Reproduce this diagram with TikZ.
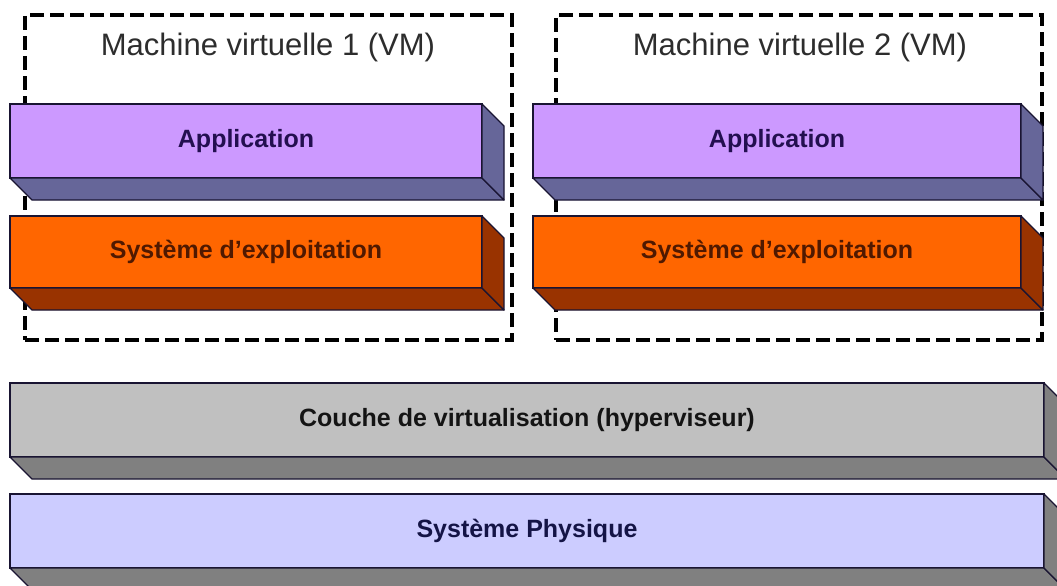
\documentclass[tikz,border=0pt]{standalone}
\usepackage{fontspec}
\setmainfont{Liberation Sans}
\definecolor{edgec}{RGB}{25,20,50}
\definecolor{appfront}{RGB}{204,153,255}
\definecolor{appside}{RGB}{102,102,153}
\definecolor{osfront}{RGB}{255,102,0}
\definecolor{osside}{RGB}{153,51,0}
\definecolor{hypfront}{RGB}{192,192,192}
\definecolor{hypside}{RGB}{128,128,128}
\definecolor{phyfront}{RGB}{204,204,255}
\definecolor{physide}{RGB}{128,128,128}
\definecolor{apptext}{RGB}{35,15,80}
\definecolor{ostext}{RGB}{80,25,0}
\definecolor{hyptext}{RGB}{20,20,20}
\definecolor{phytext}{RGB}{20,20,70}
\definecolor{titlec}{RGB}{45,45,45}
\newcommand\slabfaces[2]{%
  \filldraw[fill=#2, draw=edgec, line width=1.3pt, line join=round]
    (#1.south west) -- (#1.south east) -- ([shift={(22,22)}]#1.south east)
    -- ([shift={(22,22)}]#1.south west) -- cycle;
  \filldraw[fill=#2, draw=edgec, line width=1.3pt, line join=round]
    (#1.north east) -- ([shift={(22,22)}]#1.north east)
    -- ([shift={(22,22)}]#1.south east) -- (#1.south east) -- cycle;
}
\begin{document}
\begin{tikzpicture}[x=1pt,y=-1pt,
  face/.style={draw=edgec, line width=1.3pt, inner sep=0pt, outer sep=0pt,
    font=\fontsize{25}{28}\selectfont\bfseries},
  vmbox/.style={draw=black, line width=3.5pt, dash pattern=on 14pt off 6pt,
    inner sep=0pt, outer sep=0pt},
  vmtitle/.style={font=\fontsize{31}{36}\selectfont, text=titlec, inner sep=0pt}
]
\clip (0,0) rectangle (1057,586);
\fill[white] (0,0) rectangle (1057,586);

% virtual machine containers
\node[vmbox, minimum width=487pt, minimum height=325pt] (vm1) at (268.5,177.5) {};
\node[vmbox, minimum width=486pt, minimum height=325pt] (vm2) at (799,177.5) {};
\node[vmtitle] (vm1t) at (268,47) {Machine virtuelle 1 (VM)};
\node[vmtitle] (vm2t) at (800,47) {Machine virtuelle 2 (VM)};

% VM 1 layers
\node[face, fill=appfront, text=apptext, minimum width=472pt, minimum height=74pt] (app1) at (246,141) {Application};
\slabfaces{app1}{appside}
\node[face, fill=osfront, text=ostext, minimum width=472pt, minimum height=72pt] (os1) at (246,252) {Système d'exploitation};
\slabfaces{os1}{osside}

% VM 2 layers
\node[face, fill=appfront, text=apptext, minimum width=488pt, minimum height=74pt] (app2) at (777,141) {Application};
\slabfaces{app2}{appside}
\node[face, fill=osfront, text=ostext, minimum width=488pt, minimum height=72pt] (os2) at (777,252) {Système d'exploitation};
\slabfaces{os2}{osside}

% shared layers
\node[face, fill=hypfront, text=hyptext, minimum width=1034pt, minimum height=74pt] (hyp) at (527,420) {Couche de virtualisation (hyperviseur)};
\slabfaces{hyp}{hypside}
\node[face, fill=phyfront, text=phytext, minimum width=1034pt, minimum height=74pt] (phy) at (527,531) {Système Physique};
\slabfaces{phy}{physide}
\end{tikzpicture}
\end{document}
